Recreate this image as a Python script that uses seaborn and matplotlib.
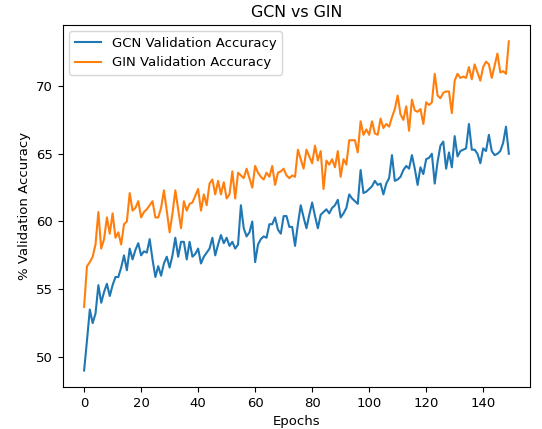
import numpy as np
import pandas as pd
import seaborn as sns
import matplotlib.pyplot as plt

# Valores (una medicion por epoca)
gcn_acc = [
    49.0, 51.2, 53.5, 52.5, 53.2, 55.3, 54.0, 54.8, 55.4, 54.5,
    55.3, 55.9, 55.9, 56.6, 57.5, 56.4, 58.0, 57.2, 57.9, 58.4,
    57.5, 57.8, 57.7, 58.7, 57.2, 55.9, 56.7, 56.0, 56.9, 57.4,
    56.6, 57.5, 58.8, 57.4, 58.5, 58.5, 57.2, 58.5, 57.4, 57.6,
    58.0, 56.9, 57.4, 57.7, 58.0, 58.8, 57.5, 58.3, 59.0, 58.4,
    58.8, 58.2, 58.5, 58.0, 58.3, 61.2, 59.5, 58.9, 59.2, 60.0,
    57.0, 58.3, 58.7, 58.9, 58.8, 59.8, 59.8, 60.3, 59.4, 59.1,
    60.4, 60.4, 59.6, 59.6, 58.2, 59.8, 61.2, 60.3, 59.5, 60.5,
    61.4, 60.4, 59.5, 60.5, 60.7, 60.9, 60.6, 61.0, 61.2, 61.6,
    60.3, 60.6, 61.0, 62.0, 61.7, 61.5, 61.3, 63.8, 62.1, 62.2,
    62.4, 62.6, 63.0, 62.7, 62.8, 62.0, 62.8, 63.2, 64.9, 63.0,
    63.1, 63.3, 63.8, 64.1, 63.9, 64.9, 63.9, 62.7, 64.0, 63.5,
    64.6, 64.7, 65.0, 62.8, 64.4, 65.6, 65.9, 63.9, 65.1, 64.0,
    66.3, 64.8, 65.2, 65.3, 65.4, 67.2, 65.3, 65.3, 65.0, 64.3,
    65.4, 65.2, 66.4, 65.2, 64.9, 65.0, 65.2, 65.8, 67.0, 65.0,
]

gin_acc = [
    53.7, 56.7, 57.0, 57.4, 58.3, 60.7, 58.0, 58.7, 60.3, 59.1,
    60.6, 58.8, 59.2, 58.3, 59.8, 60.0, 62.1, 60.8, 61.0, 61.5,
    60.3, 60.7, 60.9, 61.2, 61.5, 60.3, 60.3, 61.0, 62.3, 60.8,
    59.2, 60.6, 62.3, 60.9, 59.5, 61.5, 60.8, 61.3, 61.4, 61.9,
    62.4, 60.8, 62.0, 61.2, 62.8, 63.1, 62.0, 63.0, 62.0, 62.9,
    61.7, 62.0, 63.7, 61.7, 63.6, 63.4, 63.2, 63.9, 63.2, 62.5,
    64.1, 63.6, 63.3, 63.1, 63.6, 63.3, 64.1, 62.7, 63.6, 63.7,
    63.9, 63.4, 63.2, 63.4, 63.3, 65.3, 64.6, 63.9, 65.3, 64.8,
    64.3, 65.6, 64.5, 65.2, 62.4, 64.5, 64.2, 64.6, 64.0, 65.2,
    63.3, 64.6, 64.2, 66.0, 66.0, 66.0, 65.1, 67.4, 66.4, 66.8,
    66.4, 67.4, 66.5, 66.4, 67.6, 66.9, 67.2, 67.0, 67.7, 68.3,
    69.3, 67.9, 67.5, 68.5, 66.7, 69.0, 68.2, 68.1, 68.3, 67.2,
    68.8, 68.6, 68.8, 70.9, 69.3, 69.1, 69.5, 69.6, 69.6, 68.0,
    70.4, 70.9, 70.6, 70.7, 70.6, 71.4, 70.5, 71.6, 71.0, 70.4,
    71.4, 71.8, 71.6, 70.6, 71.5, 72.4, 71.0, 71.1, 70.9, 73.3,
]

epochs = np.arange(len(gcn_acc))

df = pd.DataFrame({
    "epoch": np.concatenate([epochs, epochs]),
    "acc": gcn_acc + gin_acc,
    "model": ["GCN Validation Accuracy"] * len(gcn_acc) + ["GIN Validation Accuracy"] * len(gin_acc),
})

plt.rcParams["font.size"] = 9.5

fig, ax = plt.subplots(figsize=(5.42, 4.29), dpi=100)
sns.lineplot(data=df, x="epoch", y="acc", hue="model",
             palette=["#1f77b4", "#ff7f0e"], linewidth=1.5, ax=ax)

ax.set_title("GCN vs GIN")
ax.set_xlabel("Epochs")
ax.set_ylabel("% Validation Accuracy")
ax.set_xticks(range(0, 141, 20))
ax.set_yticks(range(50, 71, 5))
ax.legend(loc="upper left", title=None)

plt.subplots_adjust(left=0.116, right=0.978, bottom=0.098, top=0.942)
plt.savefig("out.png")
plt.close()
